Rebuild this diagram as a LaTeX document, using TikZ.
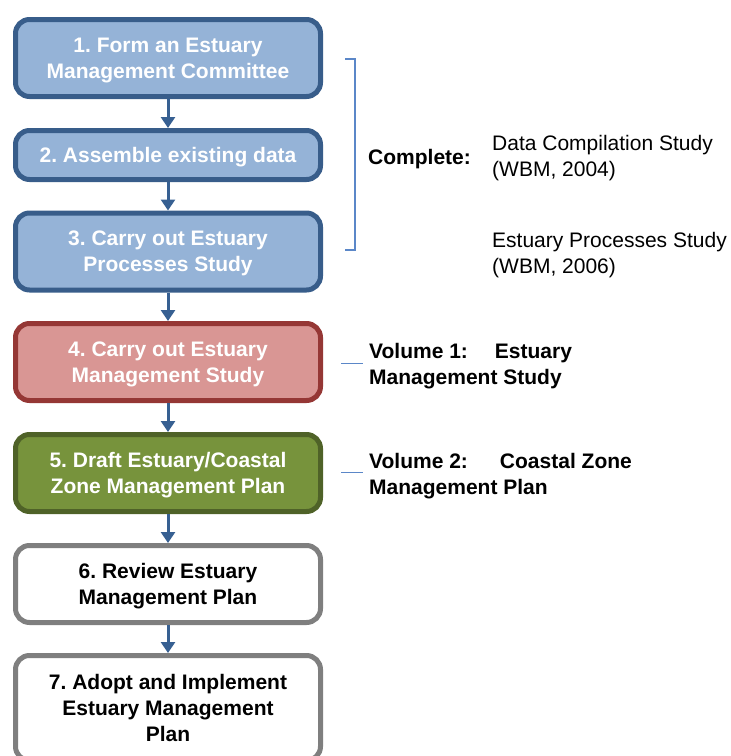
\documentclass[tikz,border=0pt]{standalone}
\usepackage{fontspec}
\setmainfont{Liberation Sans}
\usetikzlibrary{arrows.meta}
\definecolor{bluefill}{HTML}{95B3D7}
\definecolor{blueline}{HTML}{385D8A}
\definecolor{redfill}{HTML}{D99694}
\definecolor{redline}{HTML}{953735}
\definecolor{greenfill}{HTML}{77933C}
\definecolor{greenline}{HTML}{4F6228}
\definecolor{grayline}{HTML}{7F7F7F}
\definecolor{arrowblue}{HTML}{376092}
\definecolor{bracketblue}{HTML}{5B87C8}
\frenchspacing
\begin{document}
\begin{tikzpicture}[x=1pt,y=-1pt,
  stage/.style={draw, rounded corners=14pt, line width=5pt, minimum width=305pt,
    align=center, inner sep=0pt, text depth=0pt, font=\fontsize{21}{26}\selectfont\bfseries},
  bluestage/.style={stage, fill=bluefill, draw=blueline, text=white},
  flow/.style={-{Triangle[width=14pt,length=11pt]}, line width=3pt, draw=arrowblue},
  note/.style={inner sep=0pt, align=left, font=\fontsize{21}{26}\selectfont}]
\useasboundingbox (0,0) rectangle (731,756);
\clip (0,0) rectangle (731,756);
% the seven stages
\node[bluestage, minimum height=77pt] (1) at (168,58) {1. Form an Estuary\\Management Committee};
\node[bluestage, minimum height=49pt] (2) at (168,155) {2. Assemble existing data};
\node[bluestage, minimum height=77pt] (3) at (168,251.5) {3. Carry out Estuary\\Processes Study};
\node[stage, fill=redfill, draw=redline, text=white, minimum height=77pt] (4) at (168,362) {4. Carry out Estuary\\Management Study};
\node[stage, fill=greenfill, draw=greenline, text=white, minimum height=77pt] (5) at (168,473) {5. Draft Estuary/Coastal\\Zone Management Plan};
\node[stage, fill=white, draw=grayline, minimum height=77pt] (6) at (168,584) {6. Review Estuary\\Management Plan};
\node[stage, fill=white, draw=grayline, minimum height=105pt] (7) at (168,708) {7. Adopt and Implement\\Estuary Management\\Plan};
\draw[flow] (1) -- (2);
\draw[flow] (2) -- (3);
\draw[flow] (3) -- (4);
\draw[flow] (4) -- (5);
\draw[flow] (5) -- (6);
\draw[flow] (6) -- (7);
% notes on the right
\draw[bracketblue, line width=1.5pt] (345,59) -- (355,59) -- (355,250) -- (345,250);
\node[note, anchor=west] (done) at (368,159) {\bfseries Complete:};
\node[note, anchor=west] (dcs) at (492,158) {Data Compilation Study\\(WBM, 2004)};
\node[note, anchor=west] (eps) at (492,255) {Estuary Processes Study\\(WBM, 2006)};
\node[note, anchor=west, font=\fontsize{21}{26}\selectfont\bfseries] (vol1) at (369,366.5) {Volume 1:\hspace{27pt}Estuary\\Management Study};
\node[note, anchor=west, font=\fontsize{21}{26}\selectfont\bfseries] (vol2) at (369,476) {Volume 2:\hspace{32pt}Coastal Zone\\Management Plan};
\coordinate (v1) at (341,363.5);
\coordinate (v2) at (341,472.5);
\draw[bracketblue, line width=1.5pt] (v1) -- ([xshift=-6pt]v1 -| vol1.west);
\draw[bracketblue, line width=1.5pt] (v2) -- ([xshift=-6pt]v2 -| vol2.west);
\end{tikzpicture}
\end{document}
